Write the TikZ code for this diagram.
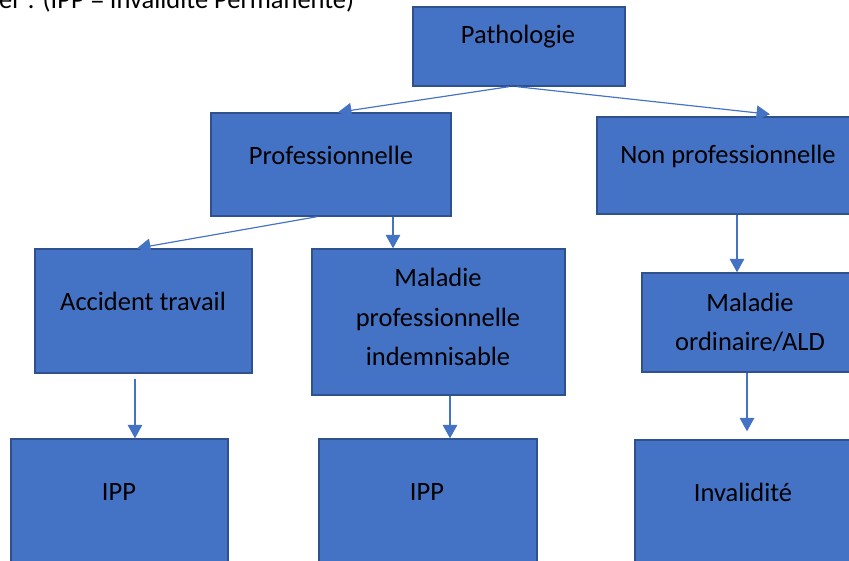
\documentclass[tikz,border=0pt]{standalone}
\usepackage{fontspec}
\setmainfont{Carlito}
\usepackage{xcolor}
\usetikzlibrary{positioning,calc,arrows.meta}
\definecolor{boxblue}{HTML}{4472C4}
\definecolor{boxedge}{HTML}{2F528F}

\begin{document}
\begin{tikzpicture}[x=0.03cm,y=-0.03cm,
                    >={Triangle[width=12.5pt,length=11.5pt]},
                    blockbox/.style={rectangle,fill=boxblue,draw=boxedge,line width=1.2pt,inner sep=0pt},
                    lbl/.style={align=center,inner sep=0pt,font=\fontsize{22.6}{33.4}\selectfont},
                    arr/.style={->,draw=boxblue,line width=1pt}]
            \useasboundingbox (0,0) rectangle (849,560);
            \clip (0,0) rectangle (849,560);

            %Boxes
                \node[blockbox,minimum width=6.36cm,minimum height=2.37cm] (patho) at (519,46.5) {};
                \node[blockbox,minimum width=7.2cm,minimum height=3.09cm] (prof) at (331,164.5) {};
                \node[blockbox,minimum width=7.89cm,minimum height=2.91cm] (nonprof) at (728.5,165.5) {};
                \node[blockbox,minimum width=6.51cm,minimum height=3.72cm] (acc) at (143.5,311) {};
                \node[blockbox,minimum width=7.59cm,minimum height=4.38cm] (malprof) at (438.5,322) {};
                \node[blockbox,minimum width=6.48cm,minimum height=2.97cm] (malord) at (750,322.5) {};
                \node[blockbox,minimum width=6.51cm,minimum height=3.9cm] (ipp1) at (119.5,504) {};
                \node[blockbox,minimum width=6.54cm,minimum height=3.9cm] (ipp2) at (428,504) {};
                \node[blockbox,minimum width=6.48cm,minimum height=3.9cm] (inval) at (743,505) {};

            %Texts
                \node[lbl,anchor=base west] (note) at (-1,9) {er : (IPP = Invalidité Permanente)};
                \node[lbl] (patho-t) at (518,37) {Pathologie};
                \node[lbl] (prof-t) at (331,155) {Professionnelle};
                \node[lbl] (nonprof-t) at (728,156) {Non professionnelle};
                \node[lbl] (acc-t) at (143,301) {Accident travail};
                \node[lbl] (malprof-t) at (438,317) {Maladie\\professionnelle\\indemnisable};
                \node[lbl] (malord-t) at (750,322) {Maladie\\ordinaire/ALD};
                \node[lbl] (ipp1-t) at (119,492) {IPP};
                \node[lbl] (ipp2-t) at (427,492) {IPP};
                \node[lbl] (inval-t) at (743,492) {Invalidité};

            %Lines
                \draw[arr] ($(patho.south)+(-10,0)$) -- ($(prof.north)+(7,0)$);
                \draw[arr] ($(patho.south)+(-2,0)$) -- ($(nonprof.north)+(41.5,-2)$);
                \draw[arr] ($(prof.south)+(-14,0)$) -- ($(acc.north)+(-6.5,0)$);
                \draw[arr] ($(prof.south)+(62,0)$) -- ($(malprof.north)+(-45.5,0)$);
                \draw[arr] (nonprof.south -| 737,0) -- (malord.north -| 737,0);
                \draw[arr] ($(acc.south)+(-8.5,5)$) -- (ipp1.north -| 135,0);
                \draw[arr] (malprof.south -| 450,0) -- (ipp2.north -| 450,0);
                \draw[arr] (malord.south -| 747,0) -- ($(inval.north -| 747,0)+(0,-8)$);
\end{tikzpicture}
\end{document}
